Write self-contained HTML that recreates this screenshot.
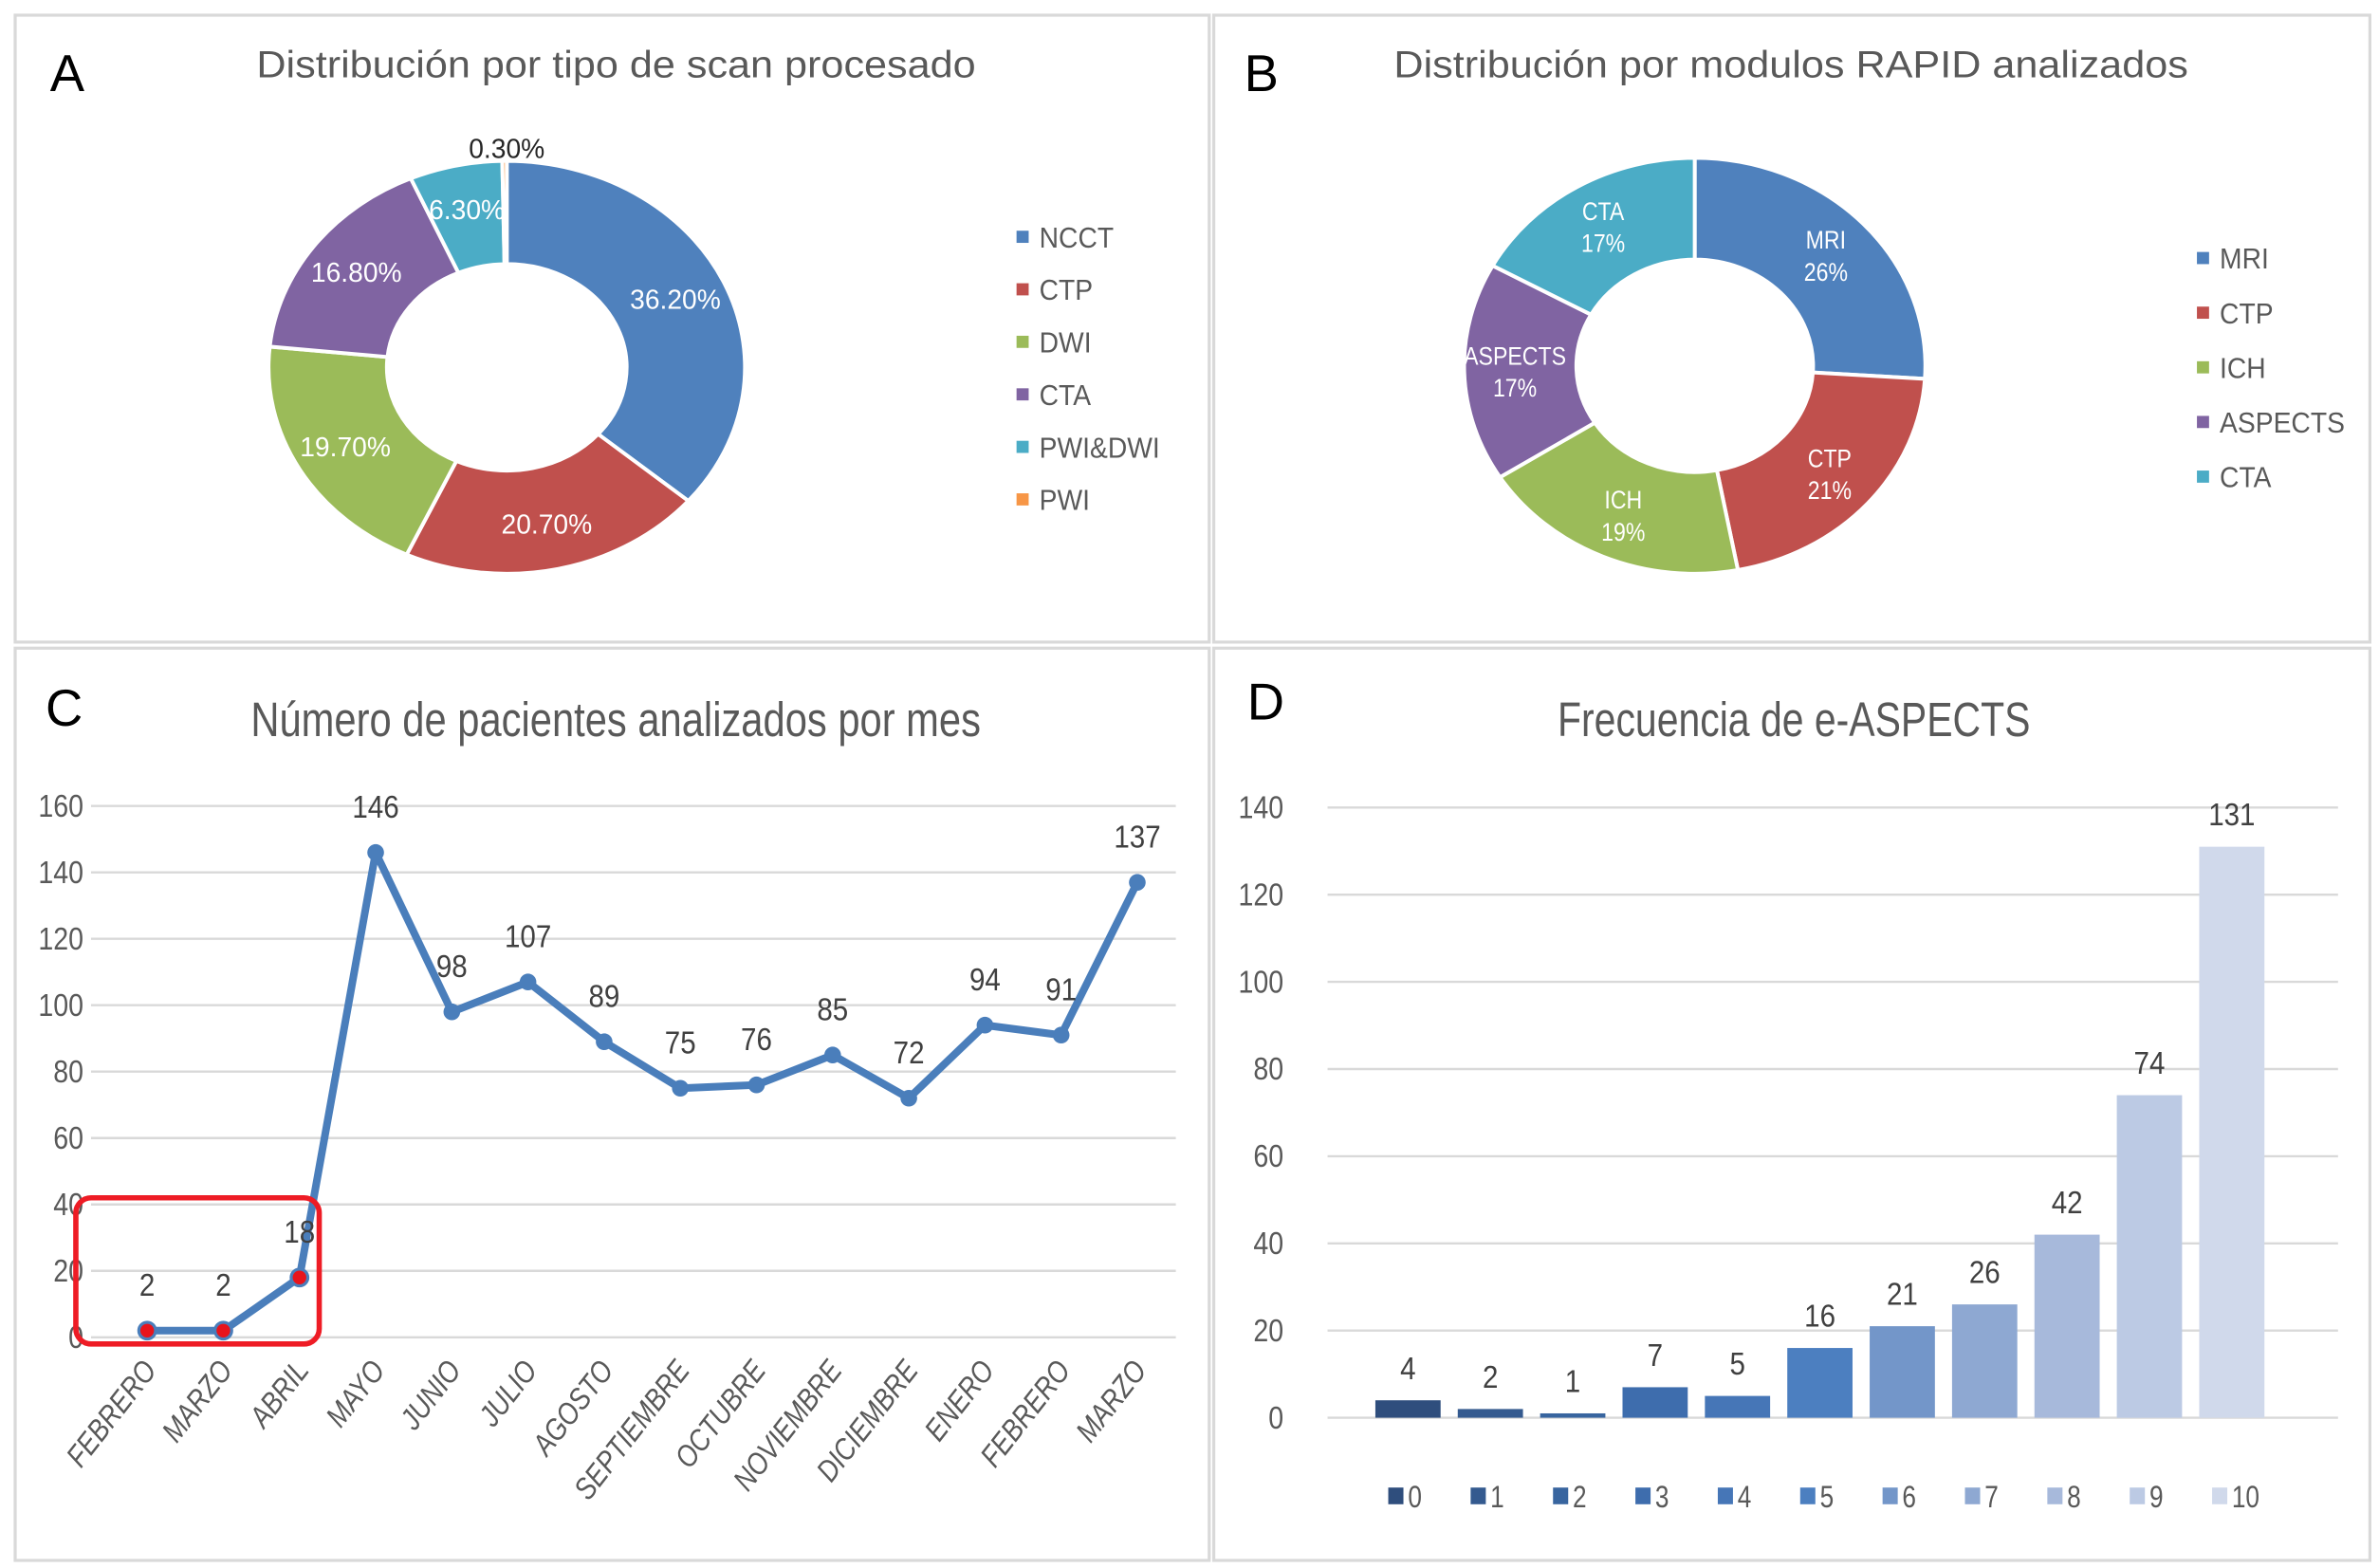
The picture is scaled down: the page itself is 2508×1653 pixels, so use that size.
<!DOCTYPE html>
<html><head><meta charset="utf-8">
<style>
html,body{margin:0;padding:0;background:#fff;}
svg{display:block;}
text{font-family:"Liberation Sans",sans-serif;}
</style></head>
<body>
<svg id="fig" width="2508" height="1653" viewBox="0 0 1568 1033" preserveAspectRatio="none" xmlns="http://www.w3.org/2000/svg">
<rect x="0" y="0" width="1568" height="1033" fill="#fff"/>
<g fill="none" stroke="#d9d9d9" stroke-width="2">
<rect x="10" y="10" width="787" height="413"/>
<rect x="800" y="10" width="762" height="413"/>
<rect x="10" y="427" width="787" height="601"/>
<rect x="800" y="427" width="762" height="601"/>
</g>
<text x="33" y="60" font-size="34" fill="#000">A</text>
<text x="820" y="60" font-size="34" fill="#000">B</text>
<text x="30" y="478" font-size="34" fill="#000">C</text>
<text x="822" y="474" font-size="34" fill="#000">D</text>
<text x="376" y="51" font-size="25" fill="#595959" text-anchor="middle" transform="scale(1.08,1)">Distribución por tipo de scan procesado</text>
<text x="1093" y="51" font-size="25" fill="#595959" text-anchor="middle" transform="scale(1.08,1)">Distribución por modulos RAPID analizados</text>
<text x="498" y="485" font-size="32" fill="#595959" text-anchor="middle" transform="scale(0.815,1)">Número de pacientes analizados por mes</text>
<text x="1478" y="485" font-size="32" fill="#595959" text-anchor="middle" transform="scale(0.8,1)">Frecuencia de e-ASPECTS</text>
<g id="chartA"></g>
<g id="chartB"></g>
<g id="chartC"></g>
<g id="chartD"></g>
</svg>
<script>
const aCats = ["NCCT","CTP","DWI","CTA","PWI&DWI","PWI"];
const aVals = [36.2,20.7,19.7,16.8,6.3,0.3];
const aLabels = ["36.20%","20.70%","19.70%","16.80%","6.30%","0.30%"];
const bCats = ["MRI","CTP","ICH","ASPECTS","CTA"];
const bVals = [26,21,19,17,17];
const bLabels = ["26%","21%","19%","17%","17%"];
const cCats = ["FEBRERO","MARZO","ABRIL","MAYO","JUNIO","JULIO","AGOSTO","SEPTIEMBRE","OCTUBRE","NOVIEMBRE","DICIEMBRE","ENERO","FEBRERO","MARZO"];
const cVals = [2,2,18,146,98,107,89,75,76,85,72,94,91,137];
const cTicks = [0,20,40,60,80,100,120,140,160];
const dCats = ["0","1","2","3","4","5","6","7","8","9","10"];
const dVals = [4,2,1,7,5,16,21,26,42,74,131];
const dTicks = [0,20,40,60,80,100,120,140];

const NS="http://www.w3.org/2000/svg";
function mk(parent,tag,attrs,txt){const e=document.createElementNS(NS,tag);for(const k in attrs)e.setAttribute(k,attrs[k]);if(txt!==undefined)e.textContent=txt;parent.appendChild(e);return e;}
function ntext(parent,x,y,attrs,txt,k){k=k||0.82;attrs.x=x/k;attrs.y=y;attrs.transform=`scale(${k},1)`;return mk(parent,"text",attrs,txt);}
const pieColors=["#4f81bd","#c0504d","#9bbb59","#8064a2","#4bacc6","#f79646"];

function donut(g,vals,cats,labels,cx,cy,rx,ry,ix,iy,legendX,legendY,legendStep,twoLine){
  const tot=vals.reduce((a,b)=>a+b,0);
  let acc=0;
  vals.forEach((v,i)=>{
    const a0=acc/tot*2*Math.PI;acc+=v;const a1=acc/tot*2*Math.PI;
    const P=(a,rx_,ry_)=>[cx+rx_*Math.sin(a),cy-ry_*Math.cos(a)];
    const large=(a1-a0)>Math.PI?1:0;
    const o0=P(a0,rx,ry),o1=P(a1,rx,ry),i1=P(a1,ix,iy),i0=P(a0,ix,iy);
    const d=`M${o0[0]},${o0[1]} A${rx},${ry} 0 ${large} 1 ${o1[0]},${o1[1]} L${i1[0]},${i1[1]} A${ix},${iy} 0 ${large} 0 ${i0[0]},${i0[1]} Z`;
    const p=mk(g,"path",{d:d,fill:pieColors[i],stroke:"#fff","stroke-width":2.5});
    
    
    const am=(a0+a1)/2;
    const small=v/tot<0.02;
    const rr=0.78;
    let lx=cx+(rx*rr)*Math.sin(am), ly=cy-(ry*rr)*Math.cos(am);
    if(twoLine){
      const t=ntext(g,lx,ly-4,{"font-size":17,fill:"#fff","text-anchor":"middle"},cats[i],0.85);
      
      
      const t2=ntext(g,lx,ly+17,{"font-size":17,fill:"#fff","text-anchor":"middle"},labels[i],0.85);
      
      
    } else {
      if(small){lx=cx;ly=cy-ry-8;}
      const t=ntext(g,lx,ly+6,{"font-size":18,fill:small?"#262626":"#fff","text-anchor":"middle"},labels[i],0.98);
      
      
    }
    const ly2=legendY+i*legendStep;
    const sq=mk(g,"rect",{x:legendX,y:ly2-4,width:8,height:8,fill:pieColors[i]});
    
    
    const lt=ntext(g,legendX+15,ly2+7,{"font-size":19,fill:"#595959"},cats[i],0.93);
    
    
  });
}
donut(document.getElementById('chartA'),aVals,aCats,aLabels,334,242,157,136,79,68,670,156,34.6,false);
donut(document.getElementById('chartB'),bVals,bCats,bLabels,1117,241,152,137,78,70,1448,170,36,true);

// Chart C
(function(){
  const g=document.getElementById('chartC');
  const x0=97,step=50.2,yb=881,yt=531,vmax=160;
  const X=i=>x0+i*step, Y=v=>yb-(v/vmax)*(yb-yt);
  cTicks.forEach(t=>{
    const l=mk(g,"line",{x1:60,x2:775,y1:Y(t),y2:Y(t),stroke:"#d9d9d9","stroke-width":1.5});
    
    
    const tx=ntext(g,55,Y(t)+7,{"font-size":21,fill:"#595959","text-anchor":"end"},String(t),0.85);
    
    
  });
  const pts=cVals.map((v,i)=>X(i)+","+Y(v)).join(" ");
  const pl=mk(g,"polyline",{points:pts,fill:"none",stroke:"#4a7ebb","stroke-width":5,"stroke-linejoin":"round"});
  
  
  cVals.forEach((v,i)=>{
    const c=mk(g,"circle",{cx:X(i),cy:Y(v),r:5.5,fill:i<3?"#e8141c":"#4a7ebb",stroke:"#4a7ebb","stroke-width":i<3?2:0});
    
    
    const t=ntext(g,X(i),Y(v)-23,{"font-size":21,fill:"#404040","text-anchor":"middle"},String(v),0.88);
    
    
    const xl=mk(g,"text",{x:0,y:0,"font-size":20,fill:"#595959","text-anchor":"end","font-style":"italic",transform:`translate(${X(i)+7},${yb+22}) rotate(-52) scale(0.85,1)`},cCats[i]);
    
    
  });
  const r=mk(g,"rect",{x:X(0)-47,y:Y(42),width:X(2)-X(0)+60,height:Y(-2)-Y(42),rx:10,fill:"none",stroke:"#ee1c25","stroke-width":3.5});
  
  
})();

// Chart D
(function(){
  const g=document.getElementById('chartD');
  const x0=928,step=54.3,yb=934,yt=532,vmax=140,bw=43;
  const X=i=>x0+i*step, Y=v=>yb-(v/vmax)*(yb-yt);
  const cols=["#2f4e7d","#345a8f","#38659f","#3e6dad","#4676b7","#4c7fc0","#7396c9","#8ea8d2","#a7b9db","#bccae4","#d0d9eb"];
  dTicks.forEach(t=>{
    const l=mk(g,"line",{x1:875,x2:1541,y1:Y(t),y2:Y(t),stroke:"#d9d9d9","stroke-width":1.5});
    
    
    const tx=ntext(g,846,Y(t)+7,{"font-size":21,fill:"#595959","text-anchor":"end"},String(t),0.85);
    
    
  });
  dVals.forEach((v,i)=>{
    const b=mk(g,"rect",{x:X(i)-bw/2,y:Y(v),width:bw,height:Y(0)-Y(v),fill:cols[i]});
    
    
    const t=ntext(g,X(i),Y(v)-14,{"font-size":21,fill:"#404040","text-anchor":"middle"},String(v),0.88);
    
    
    const lx=X(i)-6;
    const sq=mk(g,"rect",{x:lx-7,y:980,width:10,height:11,fill:cols[i]});
    
    
    const lt=ntext(g,lx+6,993,{"font-size":20,fill:"#595959"},dCats[i]);
    
    
  });
})();
</script>
</body></html>
